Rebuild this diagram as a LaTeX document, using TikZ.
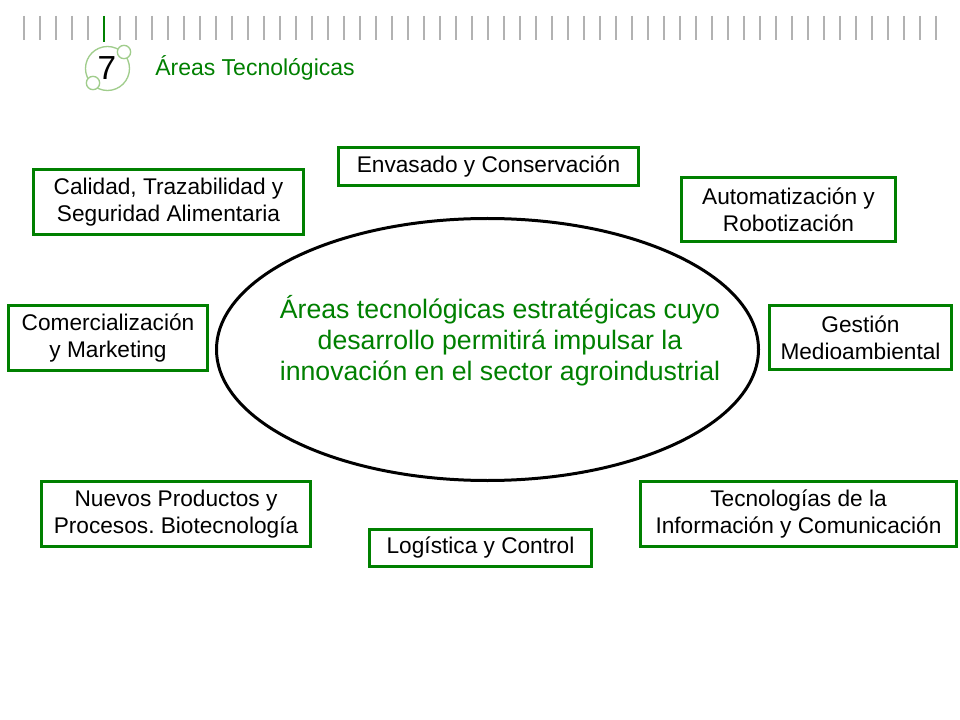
\documentclass[tikz,border=0pt]{standalone}
\usepackage{fontspec}
\setmainfont{Liberation Sans}
\usetikzlibrary{shapes.geometric}
\definecolor{areaGreen}{RGB}{0,128,0}
\definecolor{logoGreen}{RGB}{160,205,140}
\definecolor{tickGray}{RGB}{178,178,178}
\frenchspacing
\tikzstyle{areaBox}=[shape = rectangle, draw = areaGreen, line width = 2.25pt, inner sep = 0pt, align = center, font = \fontsize{17}{20.25}\selectfont]
\tikzstyle{tickMark}=[draw = tickGray, line width = 0.9pt]

\begin{document}
\begin{tikzpicture}[x = 0.75pt, y = -0.75pt]
\tikzstyle{logoRing}=[draw = logoGreen, line width = 1pt, fill = white]
\fill[white] (0,0) rectangle (960,720);
\useasboundingbox (0,0) rectangle (960,720);
% header
\foreach \i in {0,...,57}{
  \ifnum\i=5
    \draw[tickMark, draw = areaGreen] (24+16*\i, 16) -- (24+16*\i, 42);
  \else
    \draw[tickMark] (24+16*\i, 16) -- (24+16*\i, 40);
  \fi
}
\draw[logoRing, fill = none] (107.5, 68.5) circle (16.5pt);
\draw[logoRing] (124, 52) circle (5pt);
\draw[logoRing] (93, 83) circle (5pt);
\node[inner sep = 0pt, font = \fontsize{25}{28}\selectfont] (n0) at (107, 68) {7};
\node[anchor = west, inner sep = 0pt, text = areaGreen, font = \fontsize{17.25}{20}\selectfont] (h0) at (155, 68) {Áreas Tecnológicas};
% centre
\node[shape = ellipse, draw, line width = 2.25pt, inner sep = 0pt, minimum width = 406.5pt, minimum height = 196.5pt] (e0) at (487.5, 349.5) {};
\node[align = center, text = areaGreen, font = \fontsize{20}{23.25}\selectfont] (t0) at (500, 341) {Áreas tecnológicas estratégicas cuyo\\desarrollo permitirá impulsar la\\innovación en el sector agroindustrial};
% areas
\node[areaBox, minimum width = 202.5pt, minimum height = 48.75pt] (b0) at (168.5, 202) {Calidad, Trazabilidad y\\Seguridad Alimentaria};
\node[areaBox, minimum width = 225pt, minimum height = 28.5pt] (b1) at (488.5, 166.5) {Envasado y Conservación};
\node[areaBox, minimum width = 160.5pt, minimum height = 48pt] (b2) at (788.5, 209.5) {Automatización y\\Robotización};
\node[areaBox, minimum width = 149.25pt, minimum height = 48.75pt] (b3) at (108, 338) {Comercialización\\y Marketing};
\node[areaBox, minimum width = 136.5pt, minimum height = 48pt] (b4) at (860.5, 337.5) {Gestión\\Medioambiental};
\node[areaBox, minimum width = 201.75pt, minimum height = 48.75pt] (b5) at (176, 514) {Nuevos Productos y\\Procesos. Biotecnología};
\node[areaBox, minimum width = 166.5pt, minimum height = 27.75pt] (b6) at (480.5, 548) {Logística y Control};
\node[areaBox, minimum width = 237pt, minimum height = 48.75pt] (b7) at (798.5, 514) {Tecnologías de la\\Información y Comunicación};
\end{tikzpicture}
\end{document}
